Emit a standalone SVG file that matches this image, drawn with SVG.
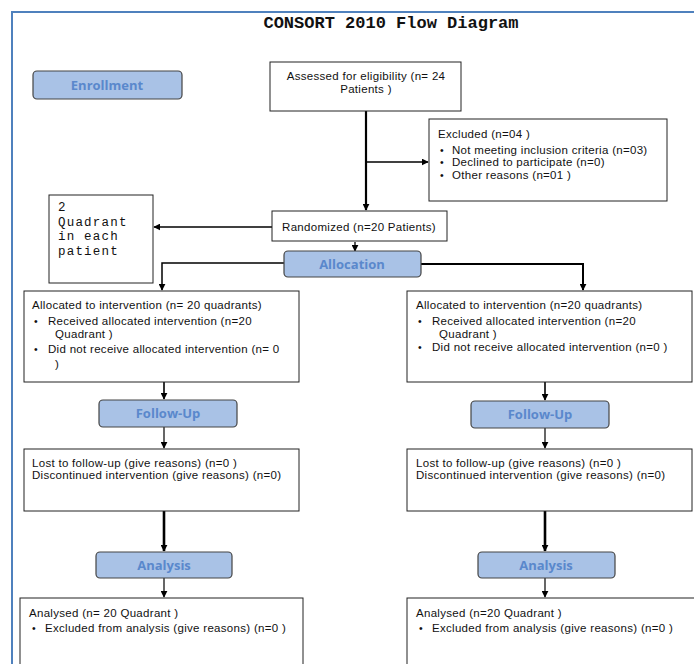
<svg xmlns="http://www.w3.org/2000/svg" width="694" height="664" viewBox="0 0 694 664">
<defs>
<marker id="ah" viewBox="0 0 10 10" refX="9" refY="5" markerWidth="7" markerHeight="7" markerUnits="userSpaceOnUse" orient="auto">
<path d="M0,0 L10,5 L0,10 z" fill="#000"/>
</marker>
<style>
.box{fill:#fff;stroke:#222;stroke-width:1}
.stage{fill:#a9c2e6;stroke:#444;stroke-width:1.2}
.st{font-family:"Open Sans","Liberation Sans",sans-serif;font-weight:bold;font-size:13px;fill:#5a88cc;text-anchor:middle}
.t{font-family:"Liberation Sans",Arial,sans-serif;font-size:11.5px;letter-spacing:0.3px;fill:#111}
.b{font-family:"Liberation Sans",Arial,sans-serif;font-size:10.5px;fill:#111}
.c{text-anchor:middle}
.mono{font-family:"Liberation Mono","Courier New",monospace;font-size:12.5px;letter-spacing:1.2px;fill:#111}
.ln{fill:none;stroke:#000}
</style>
</defs>
<rect width="694" height="664" fill="#fff"/>
<path d="M12,664 V12 H694" fill="none" stroke="#4f81bd" stroke-width="2"/>
<text x="391" y="28" text-anchor="middle" font-family="Liberation Mono,'Courier New',monospace" font-weight="bold" font-size="17" fill="#111">CONSORT 2010 Flow Diagram</text>

<g id="connectors">
<path class="ln" stroke-width="2.2" d="M366,111 V210" marker-end="url(#ah)"/>
<path class="ln" stroke-width="1.6" d="M366,162 H428" marker-end="url(#ah)"/>
<path class="ln" stroke-width="1.6" d="M272,227 H154" marker-end="url(#ah)"/>
<path class="ln" stroke-width="1.3" d="M355,242 V251" marker-end="url(#ah)"/>
<path class="ln" stroke-width="1.5" d="M284,263 H162 V290" marker-end="url(#ah)"/>
<path class="ln" stroke-width="2" d="M420,264 H583 V290" marker-end="url(#ah)"/>
<path class="ln" stroke-width="1.6" d="M164,382 V399" marker-end="url(#ah)"/>
<path class="ln" stroke-width="1.6" d="M545,382 V400" marker-end="url(#ah)"/>
<path class="ln" stroke-width="1.2" d="M164,427 V448" marker-end="url(#ah)"/>
<path class="ln" stroke-width="1.2" d="M545,428 V448" marker-end="url(#ah)"/>
<path class="ln" stroke-width="2.6" d="M164,511 V551" marker-end="url(#ah)"/>
<path class="ln" stroke-width="2.6" d="M545,511 V551" marker-end="url(#ah)"/>
<path class="ln" stroke-width="1.2" d="M164,578 V597" marker-end="url(#ah)"/>
<path class="ln" stroke-width="1.2" d="M545,578 V597" marker-end="url(#ah)"/>
</g>

<g id="enrollment">
<rect class="stage" x="33" y="71" width="149" height="28" rx="4"/>
<text class="st" x="107" y="90">Enrollment</text>
</g>
<g id="assessed">
<rect class="box" x="270" y="62" width="191" height="49"/>
<text class="t c" x="366" y="80">Assessed for eligibility (n= 24</text>
<text class="t c" x="366" y="93">Patients )</text>
</g>
<g id="excluded">
<rect class="box" x="429" y="119" width="238" height="82"/>
<text class="t" x="438" y="138">Excluded (n=04 )</text>
<text class="b" x="440" y="154">•</text><text class="t" x="452" y="154">Not meeting inclusion criteria (n=03)</text>
<text class="b" x="440" y="166">•</text><text class="t" x="452" y="166">Declined to participate (n=0)</text>
<text class="b" x="440" y="179">•</text><text class="t" x="452" y="179">Other reasons (n=01 )</text>
</g>
<g id="quadrant">
<rect class="box" x="49" y="195" width="104" height="88"/>
<text class="mono" x="58" y="211">2</text>
<text class="mono" x="58" y="225.5">Quadrant</text>
<text class="mono" x="58" y="240">in each</text>
<text class="mono" x="58" y="254.5">patient</text>
</g>
<g id="randomized">
<rect class="box" x="272" y="211" width="175" height="30"/>
<text class="t c" x="359" y="231">Randomized (n=20 Patients)</text>
</g>
<g id="allocation">
<rect class="stage" x="284" y="251" width="137" height="26" rx="4"/>
<text class="st" x="352" y="269">Allocation</text>
</g>
<g id="alloc-left">
<rect class="box" x="24" y="291" width="275" height="91"/>
<text class="t" x="32" y="309">Allocated to intervention (n= 20 quadrants)</text>
<text class="b" x="34" y="325">•</text><text class="t" x="48" y="325">Received allocated intervention (n=20</text>
<text class="t" x="55" y="338">Quadrant )</text>
<text class="b" x="34" y="353">•</text><text class="t" x="48" y="353">Did not receive allocated intervention (n= 0</text>
<text class="t" x="55" y="368">)</text>
</g>
<g id="alloc-right">
<rect class="box" x="407" y="291" width="285" height="91"/>
<text class="t" x="416" y="309">Allocated to intervention (n=20 quadrants)</text>
<text class="b" x="418" y="325">•</text><text class="t" x="432" y="325">Received allocated intervention (n=20</text>
<text class="t" x="439" y="338">Quadrant )</text>
<text class="b" x="418" y="351">•</text><text class="t" x="432" y="351">Did not receive allocated intervention (n=0 )</text>
</g>
<g id="followup-left">
<rect class="stage" x="99" y="400" width="138" height="27" rx="4"/>
<text class="st" x="168" y="418">Follow-Up</text>
</g>
<g id="followup-right">
<rect class="stage" x="471" y="401" width="138" height="27" rx="4"/>
<text class="st" x="540" y="419">Follow-Up</text>
</g>
<g id="lost-left">
<rect class="box" x="24" y="449" width="275" height="62"/>
<text class="t" x="32" y="467">Lost to follow-up (give reasons) (n=0 )</text>
<text class="t" x="32" y="479">Discontinued intervention (give reasons) (n=0)</text>
</g>
<g id="lost-right">
<rect class="box" x="407" y="449" width="285" height="62"/>
<text class="t" x="416" y="467">Lost to follow-up (give reasons) (n=0 )</text>
<text class="t" x="416" y="479">Discontinued intervention (give reasons) (n=0)</text>
</g>
<g id="analysis-left">
<rect class="stage" x="96" y="552" width="136" height="26" rx="4"/>
<text class="st" x="164" y="570">Analysis</text>
</g>
<g id="analysis-right">
<rect class="stage" x="478" y="552" width="137" height="26" rx="4"/>
<text class="st" x="546" y="570">Analysis</text>
</g>
<g id="analysed-left">
<rect class="box" x="20" y="598" width="283" height="80"/>
<text class="t" x="29" y="617">Analysed (n= 20 Quadrant )</text>
<text class="b" x="32" y="632">•</text><text class="t" x="45" y="632">Excluded from analysis (give reasons) (n=0 )</text>
</g>
<g id="analysed-right">
<rect class="box" x="407" y="598" width="300" height="80"/>
<text class="t" x="416" y="617">Analysed (n=20 Quadrant )</text>
<text class="b" x="419" y="632">•</text><text class="t" x="432" y="632">Excluded from analysis (give reasons) (n=0 )</text>
</g>
</svg>
